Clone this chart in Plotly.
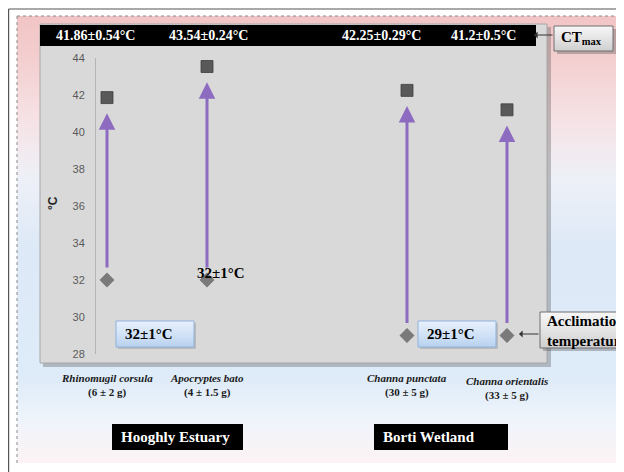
import plotly.graph_objects as go

W, H = 624, 472
OFF = 8  # the page's body margin shifts the figure by this many pixels

# ---------------- data ----------------
species = ["Rhinomugil corsula", "Apocryptes bato", "Channa punctata", "Channa orientalis"]
weights = ["(6 ± 2 g)", "(4 ± 1.5 g)", "(30 ± 5 g)", "(33 ± 5 g)"]
x_pos = [1, 2, 4, 5]
ctmax = [41.86, 43.54, 42.25, 41.2]
ctmax_labels = ["41.86±0.54°C", "43.54±0.24°C", "42.25±0.29°C", "41.2±0.5°C"]
acclimation = [32, 32, 29, 29]
acclimation_labels = ["32±1°C", "29±1°C"]
y_ticks = [28, 30, 32, 34, 36, 38, 40, 42, 44]
regions = ["Hooghly Estuary", "Borti Wetland"]

SERIF = "Liberation Serif, Times New Roman, serif"
SANS = "Liberation Sans, Arial, sans-serif"

fig = go.Figure()


def PX(x):
    return (x - OFF) / W


def PY(y):
    return 1 - (y - OFF) / H


def rect_xy(x0, y0, x1, y1):
    x0, x1, y0, y1 = x0 - OFF, x1 - OFF, y0 - OFF, y1 - OFF
    return [x0, x1, x1, x0, x0], [H - y0, H - y0, H - y1, H - y1, H - y0]


def fill_rect(x0, y0, x1, y1, color=None, grad=None, line=None, lw=1):
    xs, ys = rect_xy(x0, y0, x1, y1)
    kw = dict(x=xs, y=ys, fill="toself", xaxis="x", yaxis="y",
              hoverinfo="skip", showlegend=False)
    if line:
        kw["mode"] = "lines"
        kw["line"] = dict(color=line, width=lw)
    else:
        kw["mode"] = "none"
    if grad:
        kw["fillgradient"] = dict(type="vertical", colorscale=grad,
                                  start=min(ys), stop=max(ys))
        kw["fillcolor"] = grad[0][1]
    else:
        kw["fillcolor"] = color
    fig.add_trace(go.Scatter(**kw))


def line_seg(xs, ys, color, width=1, dash=None):
    fig.add_trace(go.Scatter(x=[v - OFF for v in xs], y=[H - (v - OFF) for v in ys],
                             mode="lines", line=dict(color=color, width=width, dash=dash),
                             xaxis="x", yaxis="y", hoverinfo="skip", showlegend=False))


def text(x, y, s, size, color="black", xanchor="center", style="normal",
         weight="bold", family=SERIF, align="center", angle=0, xref="paper", xshift=0):
    return dict(x=x if xref != "paper" else PX(x), y=PY(y), xref=xref, yref="paper",
                text=s, showarrow=False, xanchor=xanchor, yanchor="middle",
                align=align, textangle=angle, xshift=xshift,
                font=dict(family=family, size=size, color=color, style=style, weight=weight))


# ---------------- background decoration ----------------
bg_grad = [[0.0, "#fdf3f5"], [0.10, "#eef4fb"], [0.19, "#deebf8"],
           [0.48, "#dde9f7"], [0.64, "#eef0f7"], [0.77, "#f6e2e5"],
           [0.90, "#f3cfd0"], [1.0, "#f2c4c5"]]
fill_rect(17, 16, 630, 463, grad=bg_grad)
line_seg([17, 17], [16, 463], "#8a8a8a", 1, "dot")
line_seg([17, 632], [16, 16], "#8a8a8a", 1, "dot")
line_seg([8.6, 8.6], [9, 480], "#555555", 1.2)
line_seg([8.6, 632], [9, 9], "#555555", 1.2)

fill_rect(43, 27, 551, 367, color="rgba(90,90,90,0.35)")
fill_rect(40, 24, 547, 363, color="#d9d9d9", line="#a6a6a6", lw=1)
fill_rect(40, 25, 536, 46, color="#000000")

blue_grad = [[0.0, "#b8d1ef"], [0.5, "#d2e3f7"], [1.0, "#e8f0fb"]]
for bx in (116, 418):
    fill_rect(bx + 2, 323, bx + 80, 349, color="rgba(100,100,100,0.25)")
    fill_rect(bx, 321, bx + 78, 347, grad=blue_grad)
    line_seg([bx, bx + 78, bx + 78, bx, bx], [321, 321, 347, 347, 321], "#8eb1dc", 1)

gray_grad = [[0.0, "#cfcfcf"], [0.5, "#e4e4e4"], [1.0, "#f7f7f7"]]
fill_rect(557, 29, 616, 54, color="rgba(80,80,80,0.35)")
fill_rect(554, 26, 613, 51, grad=gray_grad)
line_seg([554, 613, 613, 554, 554], [26, 26, 51, 51, 26], "#6f6f6f", 1)
fill_rect(543, 315, 640, 351, color="rgba(80,80,80,0.35)")
fill_rect(540, 312, 640, 348, grad=gray_grad)
line_seg([640, 540, 540, 640], [312, 312, 348, 348], "#6f6f6f", 1)

fill_rect(112, 424, 243, 450, color="#000000")
fill_rect(374, 424, 508, 450, color="#000000")

# ---------------- data traces ----------------
fig.add_trace(go.Scatter(
    x=x_pos, y=acclimation, mode="markers", xaxis="x2", yaxis="y2",
    marker=dict(symbol="diamond", size=11, color="#7a7a7a",
                line=dict(color="#6a6a6a", width=0.5)),
    showlegend=False, hoverinfo="skip"))
fig.add_trace(go.Scatter(
    x=x_pos, y=ctmax, mode="markers", xaxis="x2", yaxis="y2",
    marker=dict(symbol="square", size=12, color="#595959",
                line=dict(color="#3f3f3f", width=0.8)),
    showlegend=False, hoverinfo="skip"))

annotations = []
for xp, a, c in zip(x_pos, acclimation, ctmax):
    annotations.append(dict(
        x=xp, y=c - 0.85, ax=xp, ay=a + 0.6, xref="x2", yref="y2",
        axref="x2", ayref="y2", text="", showarrow=True,
        arrowhead=2, arrowsize=1.1, arrowwidth=3, arrowcolor="#8d6bc1"))

band_shift = [-12, 1, -26, -24]
for xp, lab, sh in zip(x_pos, ctmax_labels, band_shift):
    annotations.append(text(xp, 35.5, lab, 14, color="white", xref="x2", xshift=sh))

spec_y = [378, 378, 378, 381]
for xp, sp, wt, py in zip(x_pos, species, weights, spec_y):
    annotations.append(text(xp, py, sp, 11, color="#1a1a1a", style="italic", xref="x2"))
    annotations.append(text(xp, py + 14, wt, 11, color="#1a1a1a", xref="x2"))

annotations.append(dict(x=2, y=32, xref="x2", yref="y2", text=acclimation_labels[0],
                        showarrow=False, xshift=14, yshift=7, xanchor="center",
                        yanchor="middle",
                        font=dict(family=SERIF, size=15, color="black", weight="bold")))
annotations.append(text(123, 334, acclimation_labels[0], 15, xanchor="left"))
annotations.append(text(425, 334, acclimation_labels[1], 15, xanchor="left"))

annotations.append(text(559, 38, "CT<sub>max</sub>", 15, xanchor="left"))
annotations.append(dict(x=PX(534), y=PY(35), xref="paper", yref="paper", text="",
                        showarrow=True, ax=20, ay=0, arrowhead=1, arrowsize=1,
                        arrowwidth=1.2, arrowcolor="#333333"))
annotations.append(text(545, 331, "Acclimation<br>temperature", 15, xanchor="left",
                        align="left"))
annotations.append(dict(x=PX(519), y=PY(334), xref="paper", yref="paper", text="",
                        showarrow=True, ax=21, ay=0, arrowhead=1, arrowsize=1,
                        arrowwidth=1.2, arrowcolor="#333333"))

for name, px in zip(regions, [119, 381]):
    annotations.append(text(px, 437, name, 15, color="white", xanchor="left"))

annotations.append(text(53, 203, "°C", 12, color="#262626", family=SANS, angle=-90))

fig.update_layout(
    width=W, height=H, autosize=False,
    margin=dict(l=0, r=0, t=0, b=0, pad=0, autoexpand=False),
    paper_bgcolor="white", plot_bgcolor="rgba(0,0,0,0)",
    showlegend=False,
    xaxis=dict(domain=[0, 1], range=[0, W], visible=False, fixedrange=True, automargin=False),
    yaxis=dict(domain=[0, 1], range=[0, H], visible=False, fixedrange=True, automargin=False),
    xaxis2=dict(domain=[PX(96), PX(555)], range=[0.89, 5.48], anchor="y2",
                visible=False, fixedrange=True, automargin=False),
    yaxis2=dict(domain=[PY(354), PY(58)], range=[28, 44], anchor="x2",
                tickvals=y_ticks, showgrid=False, zeroline=False,
                showline=True, linecolor="#b5b5b5", linewidth=1,
                ticks="outside", ticklen=8, tickcolor="rgba(0,0,0,0)",
                tickfont=dict(family=SANS, size=11, color="#595959"),
                fixedrange=True, automargin=False),
    annotations=annotations,
)

fig.write_html("out.html")
